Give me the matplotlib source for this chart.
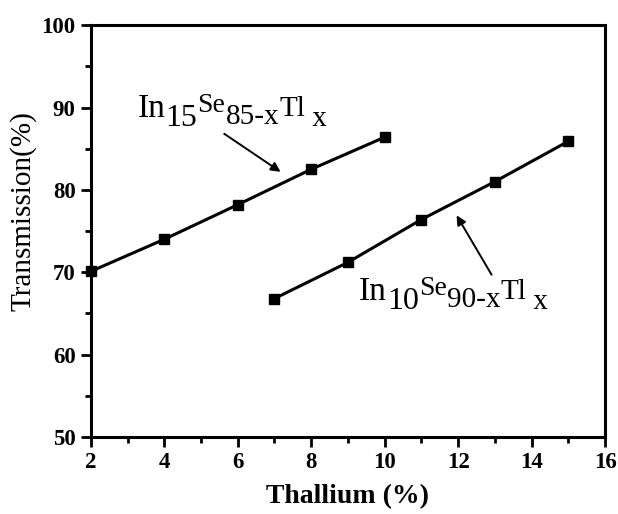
import matplotlib
matplotlib.use('Agg')
from matplotlib import pyplot as plt
from matplotlib.ticker import MultipleLocator
import matplotlib.transforms as mtransforms

# In15Se85-xTlx
tl_a = [2, 4, 6, 8, 10]
trans_a = [70.1, 74.0, 78.2, 82.5, 86.4]

# In10Se90-xTlx
tl_b = [7, 9, 11, 13, 15]
trans_b = [66.8, 71.2, 76.4, 81.0, 85.9]

plt.rcParams['font.family'] = 'Liberation Serif'

fig = plt.figure(figsize=(6.18, 5.14), dpi=100)
ax = fig.add_axes([0.147, 0.150, 0.832, 0.801])


def chem_label(x, y, pieces):
    # draw the formula piece by piece, each with its own size and shift (pt)
    renderer = fig.canvas.get_renderer()
    dx = 0.0
    for s, size, dy in pieces:
        tr = mtransforms.offset_copy(ax.transData, fig=fig, x=dx, y=dy, units='points')
        t = ax.text(x, y, s, fontsize=size, transform=tr, va='baseline', ha='left')
        dx += t.get_window_extent(renderer).width * 72.0 / fig.dpi


ax.plot(tl_a, trans_a, color='black', marker='s', markersize=6.5, linewidth=2.2, clip_on=False, zorder=3)
ax.plot(tl_b, trans_b, color='black', marker='s', markersize=6.5, linewidth=2.2, clip_on=False, zorder=3)

ax.set_xlim(2, 16)
ax.set_ylim(50, 100)
ax.xaxis.set_major_locator(MultipleLocator(2))
ax.xaxis.set_minor_locator(MultipleLocator(1))
ax.yaxis.set_major_locator(MultipleLocator(10))
ax.yaxis.set_minor_locator(MultipleLocator(5))
ax.tick_params(which='major', direction='out', length=7, width=2, labelsize=16.5, pad=4)
ax.tick_params(which='minor', direction='out', length=4, width=2)
for lab in ax.get_xticklabels() + ax.get_yticklabels():
    lab.set_fontweight('bold')
for s in ax.spines.values():
    s.set_linewidth(2.2)

ax.set_xlabel('Thallium (%)', fontsize=20, fontweight='bold')
ax.xaxis.set_label_coords(0.5, -0.115)
ax.set_ylabel('Transmission(%)', fontsize=21)
ax.yaxis.set_label_coords(-0.105, 0.548)

chem_label(3.28, 88.8, [('In', 24, 0), ('15', 23, -6), ('Se', 20, 4),
                        ('85-x', 21, -5), ('Tl', 21, 1), (' x', 21, -6)])
ax.annotate('', xy=(7.23, 82.0), xytext=(5.57, 87.0),
            arrowprops=dict(arrowstyle='-|>', color='black', lw=1.4, mutation_scale=14))

chem_label(9.3, 66.6, [('In', 24, 0), ('10', 23, -6), ('Se', 20, 4),
                       ('90-x', 21, -5), ('Tl', 21, 1), (' x', 21, -6)])
ax.annotate('', xy=(11.92, 77.2), xytext=(12.95, 69.4),
            arrowprops=dict(arrowstyle='-|>', color='black', lw=1.4, mutation_scale=14))

plt.savefig('out.png')
